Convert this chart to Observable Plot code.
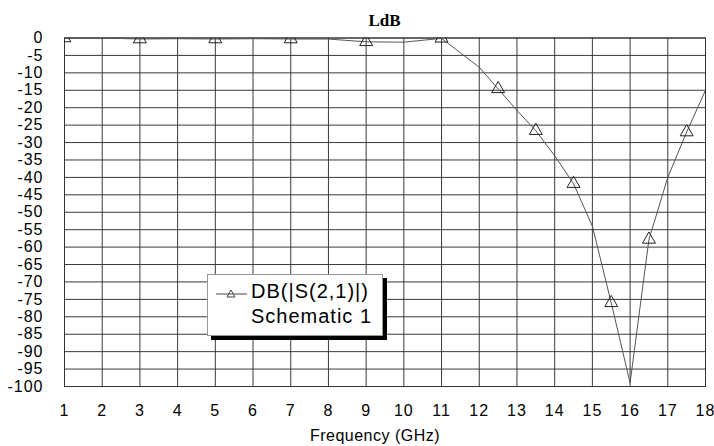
<!DOCTYPE html>
<html>
<head>
<meta charset="utf-8">
<script src="https://cdn.jsdelivr.net/npm/d3@7"></script>
<script src="https://cdn.jsdelivr.net/npm/@observablehq/plot@0.6"></script>
<style>
  body { margin: 0; background: #fff; }
  #wrap { position: relative; width: 714px; height: 446px; font-family: Arial, "Liberation Sans", sans-serif; }
  #chart svg text { letter-spacing: 1px; }
  #title { position: absolute; left: 0; width: 769px; top: 11px; text-align: center; font-family: "Liberation Serif", "Times New Roman", serif; font-weight: bold; font-size: 17px; color: #000; }
  #xlabel { position: absolute; left: 275px; width: 200px; top: 427px; text-align: center; font-size: 16px; letter-spacing: 0.5px; color: #000; }
  #legend { position: absolute; left: 207px; top: 274px; width: 174px; height: 60px; background: #fff; border: 1px solid #999; box-shadow: 4px 4px 0 #000; }
  #legend .t { position: absolute; left: 43px; font-size: 20px; letter-spacing: 1px; color: #000; white-space: nowrap; }
  #legend svg { position: absolute; left: 7px; top: 12px; }
</style>
</head>
<body>
<div id="wrap">
  <div id="chart"></div>
  <div id="title">LdB</div>
  <div id="xlabel">Frequency (GHz)</div>
  <div id="legend">
    <svg width="34" height="14"><line x1="1" y1="7" x2="32" y2="7" stroke="#444" stroke-width="1"/><path d="M16,3 L20,10 L12,10 Z" fill="none" stroke="#444" stroke-width="1"/></svg>
    <div class="t" style="top:5px">DB(|S(2,1)|)</div>
    <div class="t" style="top:30px">Schematic 1</div>
  </div>
</div>
<script>
const freq = [1, 2, 3, 4, 5, 6, 7, 8, 9, 10, 11, 12, 12.5, 13, 13.5, 14, 14.5, 15, 15.5, 16, 16.5, 17, 17.5, 18];
const db   = [0, 0, -0.3, -0.2, -0.3, -0.2, -0.3, -0.3, -1.1, -1.2, -0.1, -8.4, -14.6, -20.8, -26.6, -33.8, -41.8, -54, -76, -99, -57.8, -40, -27, -15];
const markerFreq = [1, 3, 5, 7, 9, 11, 12.5, 13.5, 14.5, 15.5, 16.5, 17.5];
const xTicks = d3.range(1, 19);
const yTicks = d3.range(0, -101, -5);

const data = freq.map((f, i) => ({f, v: db[i]}));
const markers = data.filter(d => markerFreq.includes(d.f));

const chart = Plot.plot({
  width: 714,
  height: 446,
  marginLeft: 64,
  marginRight: 9,
  marginTop: 37.5,
  marginBottom: 60,
  style: {fontFamily: "Arial, 'Liberation Sans', sans-serif", fontSize: "16px", color: "#000", background: "#fff"},
  x: {domain: [1, 18], ticks: xTicks, tickSize: 0, tickPadding: 18, label: null, tickFormat: d3.format("d")},
  y: {domain: [-100, 0], ticks: yTicks, tickSize: 0, tickPadding: 21, label: null, tickFormat: d => d === 0 ? "0" : "-" + Math.abs(d)},
  marks: [
    Plot.ruleX(xTicks, {stroke: "#3a3a3a", strokeWidth: 1, strokeOpacity: 1}),
    Plot.ruleY(yTicks, {stroke: "#3a3a3a", strokeWidth: 1, strokeOpacity: 1}),
    Plot.frame({stroke: "#333"}),
    Plot.line(data, {x: "f", y: "v", stroke: "#555", strokeWidth: 1, clip: true}),
    Plot.dot(markers, {x: "f", y: "v", symbol: "triangle", r: 4.8, stroke: "#222", strokeWidth: 1, fill: "none", clip: true}),
    Plot.axisX({ticks: xTicks, tickSize: 0, tickPadding: 18, tickFormat: d3.format("d"), label: null}),
    Plot.axisY({ticks: yTicks, tickSize: 0, tickPadding: 21, label: null, tickFormat: d => d === 0 ? "0" : "-" + Math.abs(d)})
  ]
});
document.getElementById("chart").appendChild(chart);
</script>
</body>
</html>
